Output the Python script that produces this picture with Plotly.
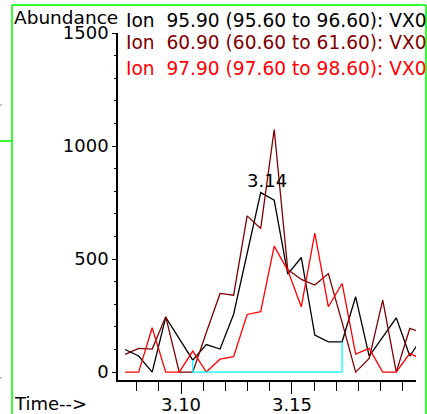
import plotly.graph_objects as go

# ---- data ----
times = [3.0748, 3.0809, 3.0870, 3.0931, 3.0992, 3.1053, 3.1114, 3.1176, 3.1237,
         3.1298, 3.1359, 3.1420, 3.1481, 3.1542, 3.1603, 3.1664, 3.1726, 3.1787,
         3.1848, 3.1909, 3.1970, 3.2031, 3.2092]
ion_95_90 = [100, 71, 0, 242, 148, 53, 122, 102, 256, 530, 794, 760, 433, 507,
             164, 134, 134, 333, 71, 155, 240, 71, 159]
ion_60_90 = [78, 105, 102, 245, 0, 0, 175, 348, 340, 691, 635, 1073, 454, 410,
             385, 436, 220, 0, 60, 318, 0, 193, 172]
ion_97_90 = [0, 0, 196, 0, 0, 93, 0, 57, 68, 255, 267, 557, 450, 289, 615, 289,
             392, 80, 105, 0, 0, 83, 53]
legend_labels = ["Ion  95.90 (95.60 to 96.60): VX0",
                 "Ion  60.90 (60.60 to 61.60): VX0",
                 "Ion  97.90 (97.60 to 98.60): VX0"]
series_colors = ["#000000", "#7f0000", "#ff0000"]
x_tick_vals = [3.10, 3.15]
x_tick_text = ["3.10", "3.15"]
x_minor_vals = [3.08, 3.09, 3.11, 3.12, 3.13, 3.14, 3.16, 3.17, 3.18, 3.19, 3.20]
y_tick_vals = [0, 500, 1000, 1500]
y_tick_text = ["0", "500", "1000", "1500"]
y_minor_vals = [v for v in range(0, 1501, 100) if v % 500]
peak_index = 10          # apex labelled with its retention time
base_start, base_end = 5, 16  # integration baseline scan indices

# ---- layout geometry (pixels) ----
W, H = 427, 414
L, R, T, B = 118, 416, 33, 380
FONT = "DejaVu Sans, Liberation Sans, Arial, sans-serif"
FS = 18


def px(xp):
    return (xp - L) / (R - L)


def py(yp):
    return (B - yp) / (B - T)


fig = go.Figure()
for vals, col in zip([ion_95_90, ion_60_90, ion_97_90], series_colors):
    fig.add_trace(go.Scatter(x=times, y=vals, mode="lines",
                             line=dict(color=col, width=1.3), hoverinfo="skip"))

# integration baseline (cyan)
fig.add_trace(go.Scatter(
    x=[times[base_start], times[base_start], times[base_end], times[base_end]],
    y=[ion_95_90[base_start], 0, 0, ion_95_90[base_end]],
    mode="lines", line=dict(color="#00ffff", width=1.3), hoverinfo="skip"))

annotations = [
    dict(x=times[peak_index], y=ion_95_90[peak_index], xref="x", yref="y",
         text=f"{times[peak_index]:.2f}", showarrow=False, xanchor="center",
         yanchor="bottom", xshift=6, yshift=0,
         font=dict(family=FONT, size=FS, color="black")),
    dict(x=px(12), y=py(17), xref="paper", yref="paper", text="Abundance",
         showarrow=False, xanchor="left", yanchor="middle",
         font=dict(family=FONT, size=18.5, color="black")),
    dict(x=px(12), y=py(403), xref="paper", yref="paper", text="Time-->",
         showarrow=False, xanchor="left", yanchor="middle",
         font=dict(family=FONT, size=FS, color="black")),
]
for lab, col, yc in zip(legend_labels, series_colors, [20, 43, 68]):
    annotations.append(dict(x=px(124), y=py(yc), xref="paper", yref="paper",
                            text=lab, showarrow=False, xanchor="left",
                            yanchor="middle",
                            font=dict(family=FONT, size=18.6, color=col)))

green = "#33ff33"
shapes = [
    dict(type="line", xref="paper", yref="paper", x0=px(12), x1=px(12),
         y0=py(5), y1=py(420), line=dict(color=green, width=2)),
    dict(type="line", xref="paper", yref="paper", x0=px(12), x1=px(426),
         y0=py(5), y1=py(5), line=dict(color=green, width=2)),
    dict(type="line", xref="paper", yref="paper", x0=px(426), x1=px(426),
         y0=py(5), y1=py(420), line=dict(color=green, width=2)),
    dict(type="line", xref="paper", yref="paper", x0=px(0), x1=px(12),
         y0=py(141), y1=py(141), line=dict(color=green, width=2)),
    dict(type="line", xref="paper", yref="paper", x0=px(0), x1=px(2),
         y0=py(105), y1=py(105), line=dict(color="#888888", width=1)),
    dict(type="line", xref="paper", yref="paper", x0=px(0), x1=px(2),
         y0=py(378), y1=py(378), line=dict(color="#888888", width=1)),
]

fig.update_layout(
    width=W, height=H,
    margin=dict(l=L, r=W - R, t=T, b=H - B, pad=0, autoexpand=False),
    paper_bgcolor="white", plot_bgcolor="white",
    showlegend=False,
    annotations=annotations, shapes=shapes,
    xaxis=dict(range=[3.0716, 3.2059], showgrid=False, zeroline=False,
               automargin=False,
               showline=True, linecolor="black", linewidth=1.5,
               ticks="outside", ticklen=12, tickcolor="black", tickwidth=1,
               ticklabelstandoff=-4,
               tickmode="array", tickvals=x_tick_vals, ticktext=x_tick_text,
               tickfont=dict(family=FONT, size=FS, color="black"),
               minor=dict(tickmode="array", tickvals=x_minor_vals, ticks="outside",
                          ticklen=9, tickcolor="black", tickwidth=1, showgrid=False)),
    yaxis=dict(range=[-35, 1500], showgrid=False, zeroline=False,
               automargin=False,
               showline=True, linecolor="black", linewidth=1.5,
               ticks="outside", ticklen=4, tickcolor="black", tickwidth=1,
               tickmode="array", tickvals=y_tick_vals, ticktext=y_tick_text,
               tickfont=dict(family=FONT, size=FS, color="black"),
               minor=dict(tickmode="array", tickvals=y_minor_vals, ticks="outside",
                          ticklen=2, tickcolor="black", tickwidth=1, showgrid=False)),
)

# remove the page's default 8px body margin so the figure sits at (0, 0)
fig.write_html(
    "out.html",
    config={"displayModeBar": False},
    post_script="document.body.style.margin='0px';"
                "document.body.style.overflow='hidden';",
)
